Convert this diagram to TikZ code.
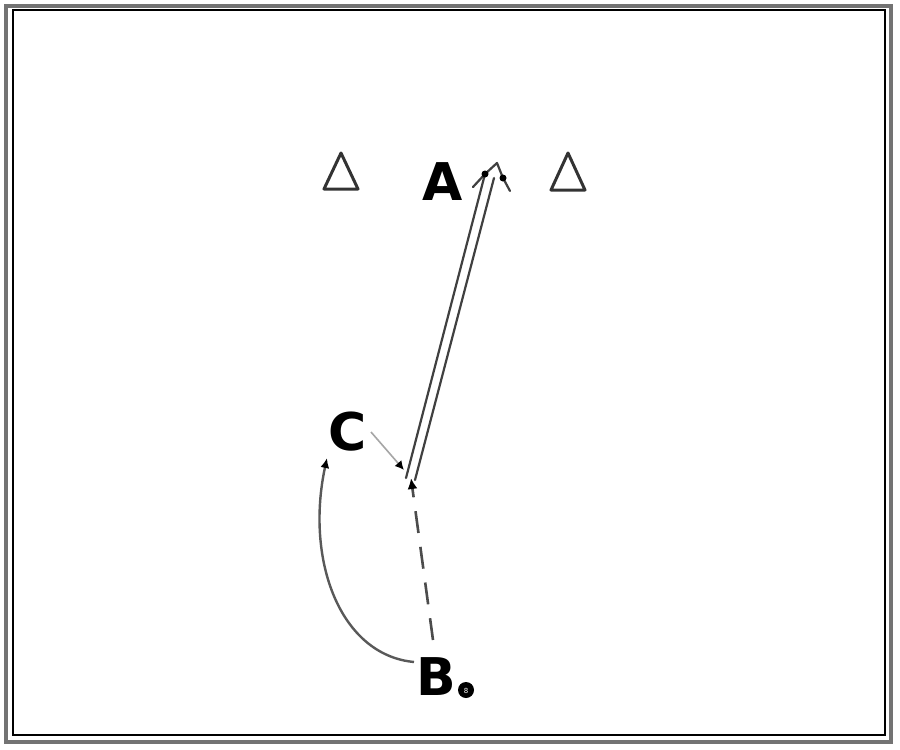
\documentclass[tikz,border=0pt]{standalone}
\usepackage{fontspec}
\setmainfont{DejaVu Sans}
\usetikzlibrary{arrows.meta}
\begin{document}
\begin{tikzpicture}[x=1pt,y=-1pt,
  lbl/.style={font=\fontsize{52}{52}\selectfont\bfseries, inner sep=0pt, text=black},
  cone/.style={draw=black!80, line width=3pt, line join=round},
  run/.style={draw=black!65, line width=2.4pt, -{Latex[length=10pt,width=9pt,black]}},
  pass/.style={draw=black!70, line width=2.6pt, dash pattern=on 22pt off 14pt, -{Latex[length=11pt,width=10pt,black]}},
  thin/.style={draw=black!35, line width=1.6pt, -{Latex[length=9pt,width=9pt,black]}},
  dribble/.style={draw=black!75, line width=2.2pt, line cap=round, line join=round}
]
\useasboundingbox (0,0) rectangle (900,750);
\fill[white] (0,0) rectangle (900,750);
% frame
\draw[black!55, line width=4pt] (5.5,5.5) rectangle (891,742);
\draw[black, line width=1.3pt] (13,10) rectangle (885,735);
% cones
\draw[cone] (341,153) -- (358,189) -- (324,189) -- cycle;
\draw[cone] (568,153) -- (585,190) -- (551,190) -- cycle;
% labels
\node[lbl] (A) at (443,182) {A};
\node[lbl] (C) at (348,432) {C};
\node[lbl] (B) at (436,677) {B};
\node[circle, fill=black, minimum size=16pt, inner sep=0pt] (ball) at (466,690) {};
\node[font=\fontsize{7}{7}\selectfont, text=white, inner sep=0pt] at (466,691) {8};
% coordinates
\coordinate (p0) at (411,478);
\coordinate (p1) at (497,163);
\coordinate (lt) at (485,174);
\coordinate (rt) at (503,178);
\coordinate (b0) at (433,640);
\coordinate (c0) at (371,432);
\coordinate (c1) at (404,470);
\coordinate (d0) at (414,662);
\coordinate (d1) at (327,458);
% double arrow
\draw[dribble] (406,478) -- (lt);
\draw[dribble] (415,480) -- (494,178);
\draw[dribble] (473,187) -- (lt) -- (p1) -- (rt) -- (510,191);
\fill[black] (lt) circle (3.5pt);
\fill[black] (rt) circle (3.5pt);
% dashed pass
\draw[pass] (b0) -- (p0);
% C thin arrow
\draw[thin] (c0) -- (c1);
% curved run
\draw[run] (d0) .. controls (340,655) and (305,560) .. (d1);
\end{tikzpicture}
\end{document}
